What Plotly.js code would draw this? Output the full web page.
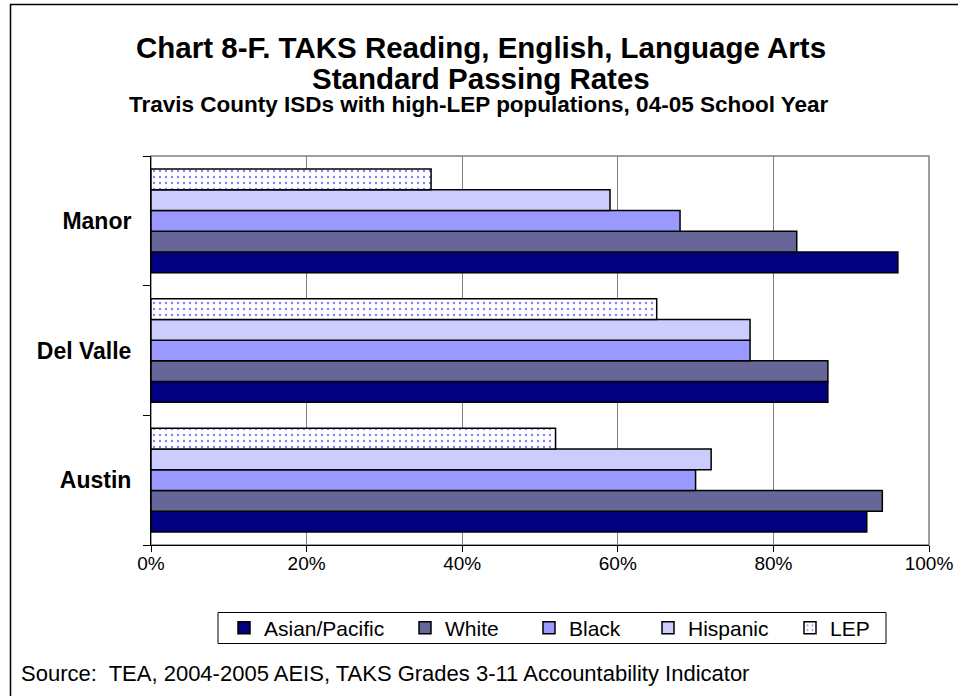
<!DOCTYPE html>
<html>
<head>
<meta charset="utf-8">
<script src="https://cdn.plot.ly/plotly-3.0.1.min.js"></script>
<style>
html,body{margin:0;padding:0;background:#fff;}
#chart{width:958px;height:696px;}
</style>
</head>
<body>
<div id="chart"></div>
<script>
// Data
const districts = ['Austin', 'Del Valle', 'Manor'];
const seriesNames = ['Asian/Pacific', 'White', 'Black', 'Hispanic', 'LEP'];
const asianPacific = [92, 87, 96];
const white = [94, 87, 83];
const black = [70, 77, 68];
const hispanic = [72, 77, 59];
const lep = [52, 65, 36];
const xTicks = [0, 20, 40, 60, 80, 100];
const xTickLabels = ['0%', '20%', '40%', '60%', '80%', '100%'];
const titleLine1 = 'Chart 8-F. TAKS Reading, English, Language Arts';
const titleLine2 = 'Standard Passing Rates';
const subtitle = 'Travis County ISDs with high-LEP populations, 04-05 School Year';
const sourceText = 'Source:  TEA, 2004-2005 AEIS, TAKS Grades 3-11 Accountability Indicator';

const seriesValues = [asianPacific, white, black, hispanic, lep];
const colors = ['#000080', '#666699', '#9999ff', '#ccccff', '#ffffff'];
const legendWidths = [136, 79, 74, 97, 40];

const FONT = 'Arial, "Liberation Sans", sans-serif';

const traces = seriesNames.map((name, i) => {
  const t = {
    type: 'bar',
    orientation: 'h',
    name: name,
    y: districts,
    x: seriesValues[i],
    legendwidth: legendWidths[i],
    marker: {
      color: colors[i],
      line: {color: '#000000', width: 1.5}
    },
    hoverinfo: 'x+name'
  };
  if (name === 'LEP') {
    t.marker.pattern = {shape: '.', fgcolor: '#8080ff', bgcolor: '#ffffff', size: 6, solidity: 0.12, fillmode: 'replace'};
  }
  return t;
});

// plot area in pixels
const L = 151, R = 29, T = 156, B = 151;
const W = 958, H = 696;
const pw = W - L - R, ph = H - T - B;
const px = x => (x - L) / pw;
const py = y => (H - B - y) / ph;

const layout = {
  width: W,
  height: H,
  margin: {l: L, r: R, t: T, b: B, pad: 0},
  paper_bgcolor: '#ffffff',
  plot_bgcolor: '#ffffff',
  barmode: 'group',
  bargap: 0.2,
  bargroupgap: 0,
  font: {family: FONT, color: '#000000', size: 18},
  xaxis: {
    range: [0, 100],
    tickvals: xTicks,
    ticktext: xTickLabels,
    showgrid: true,
    gridcolor: '#808080',
    gridwidth: 1,
    zeroline: false,
    showline: true,
    linecolor: '#000000',
    linewidth: 1,
    ticks: 'outside',
    ticklen: 6,
    tickcolor: '#000000',
    ticklabelstandoff: -5,
    tickfont: {family: FONT, size: 19, color: '#000000'},
    fixedrange: true
  },
  yaxis: {
    type: 'category',
    categoryorder: 'array',
    categoryarray: districts,
    tickson: 'boundaries',
    ticks: 'outside',
    ticklen: 7,
    tickcolor: '#000000',
    showline: true,
    linecolor: '#000000',
    linewidth: 1,
    showgrid: false,
    zeroline: false,
    ticklabelstandoff: 14,
    tickfont: {family: FONT, size: 23, color: '#000000', weight: 'bold'},
    fixedrange: true
  },
  legend: {
    orientation: 'h',
    traceorder: 'normal',
    x: px(224),
    xanchor: 'left',
    y: py(628),
    yanchor: 'middle',
    borderwidth: 0,
    bgcolor: 'rgba(0,0,0,0)',
    font: {family: FONT, size: 21, color: '#000000'}
  },
  shapes: [
    // plot area border (top/right gray)
    {type: 'rect', xref: 'paper', yref: 'paper', x0: 0, x1: 1, y0: 0, y1: 1,
     line: {color: '#808080', width: 1.5}, layer: 'below'},
    // legend box
    {type: 'rect', xref: 'paper', yref: 'paper',
     x0: px(218), x1: px(886), y0: py(643.5), y1: py(612.5),
     line: {color: '#000000', width: 1}, fillcolor: 'rgba(0,0,0,0)', layer: 'above'},
    // outer chart frame
    {type: 'rect', xref: 'paper', yref: 'paper',
     x0: px(10.5), x1: px(962), y0: py(700), y1: py(4.5),
     line: {color: '#000000', width: 1.5}}
  ],
  annotations: [
    {text: '<b>' + titleLine1 + '</b>', xref: 'paper', yref: 'paper', x: px(481), y: py(48),
     xanchor: 'center', yanchor: 'middle', showarrow: false, font: {family: FONT, size: 29.5, color: '#000000'}},
    {text: '<b>' + titleLine2 + '</b>', xref: 'paper', yref: 'paper', x: px(481), y: py(78),
     xanchor: 'center', yanchor: 'middle', showarrow: false, font: {family: FONT, size: 29.5, color: '#000000'}},
    {text: '<b>' + subtitle + '</b>', xref: 'paper', yref: 'paper', x: px(479), y: py(104),
     xanchor: 'center', yanchor: 'middle', showarrow: false, font: {family: FONT, size: 22.5, color: '#000000'}},
    {text: sourceText, xref: 'paper', yref: 'paper', x: px(19), y: py(673),
     xanchor: 'left', yanchor: 'middle', showarrow: false, font: {family: FONT, size: 22, color: '#000000'}}
  ],
  showlegend: true
};

Plotly.newPlot('chart', traces, layout, {displayModeBar: false, staticPlot: true});
</script>
</body>
</html>
